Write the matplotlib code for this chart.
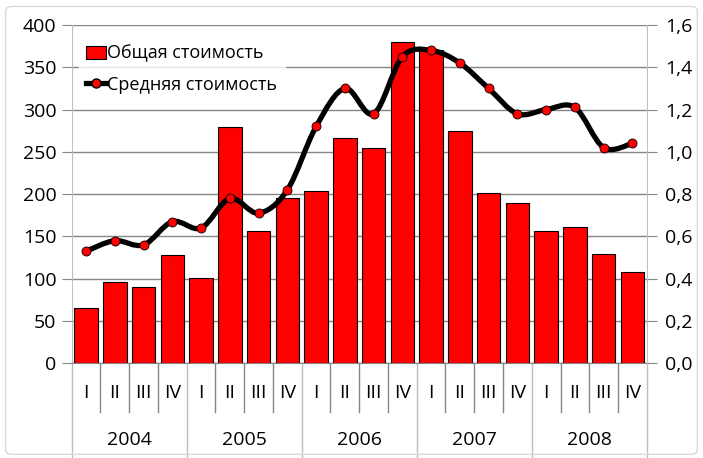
import matplotlib
matplotlib.use("Agg")
import matplotlib.pyplot as plt
import numpy as np
from matplotlib.path import Path
from matplotlib.patches import PathPatch, Patch, FancyBboxPatch
from matplotlib.lines import Line2D
import matplotlib.transforms as mtransforms

plt.rcParams['font.family'] = ['Open Sans', 'DejaVu Sans']

# ---------------- datos ----------------
years = ['2004', '2005', '2006', '2007', '2008']
quarters = ['I', 'II', 'III', 'IV']
total_cost = [65, 96, 90, 128, 101, 279, 157, 196, 204, 266,
              255, 380, 371, 275, 201, 189, 156, 161, 129, 108]
avg_cost = [0.53, 0.58, 0.56, 0.67, 0.64, 0.78, 0.71, 0.82, 1.12, 1.30,
            1.18, 1.45, 1.48, 1.42, 1.30, 1.18, 1.20, 1.21, 1.02, 1.04]
y1_ticks = [0, 50, 100, 150, 200, 250, 300, 350, 400]
y2_ticks = [0.0, 0.2, 0.4, 0.6, 0.8, 1.0, 1.2, 1.4, 1.6]

grid_col = '#868686'
axis_col = '#BFBFBF'
fs = 14

fig = plt.figure(figsize=(7.03, 4.58), dpi=100)
fig.patches.append(FancyBboxPatch((0.008, 0.008), 0.984, 0.978,
                                  boxstyle='round,pad=0,rounding_size=0.01',
                                  transform=fig.transFigure, facecolor='none',
                                  edgecolor='#D9D9D9', lw=1))
ax = fig.add_axes([0.102, 0.2068, 0.818, 0.7386])
ax2 = ax.twinx()

x = np.arange(len(total_cost))
ax.bar(x, total_cost, width=0.82, color='#FF0000', edgecolor='black', linewidth=0.8, zorder=2)
ax.set_xlim(-0.5, len(x) - 0.5)
ax.set_ylim(0, 400)
ax.set_yticks(y1_ticks)
ax.set_yticklabels([str(v) for v in y1_ticks], fontsize=fs)
ax.yaxis.grid(True, color=grid_col, lw=1, zorder=0)
ax.set_axisbelow(True)
ax.tick_params(axis='y', length=7, color=grid_col, pad=4)
ax.set_xticks([])
for s in ['top', 'right']:
    ax.spines[s].set_visible(False)
ax.spines['left'].set_color(axis_col)
ax.spines['bottom'].set_color(grid_col)

# linea suavizada (bezier tipo Excel)
pts = np.column_stack([x, avg_cost]).astype(float)
ext = np.vstack([pts[0], pts, pts[-1]])
verts = [tuple(pts[0])]
codes = [Path.MOVETO]
for i in range(len(pts) - 1):
    p0, p1, p2, p3 = ext[i], ext[i + 1], ext[i + 2], ext[i + 3]
    c1 = p1 + (p2 - p0) / 6
    c2 = p2 - (p3 - p1) / 6
    verts += [tuple(c1), tuple(c2), tuple(p2)]
    codes += [Path.CURVE4] * 3
ax2.add_patch(PathPatch(Path(verts, codes), facecolor='none', edgecolor='black', lw=3.8, zorder=3))
ax2.plot(x, avg_cost, 'o', color='#FF0000', mec='black', mew=0.6, ms=6.5, zorder=4)
ax2.set_ylim(0, 1.6)
ax2.set_yticks(y2_ticks)
ax2.set_yticklabels([f'{v:.1f}'.replace('.', ',') for v in y2_ticks], fontsize=fs)
ax2.tick_params(axis='y', length=7, color=grid_col, pad=6)
for s in ['top', 'left', 'bottom']:
    ax2.spines[s].set_visible(False)
ax2.spines['right'].set_color(axis_col)

# eje de categorias en dos niveles
trans = mtransforms.blended_transform_factory(ax.transData, ax.transAxes)
px = 1.0 / (0.7386 * 458)
for i in range(len(x) + 1):
    bottom = -95 * px if i % 4 == 0 else -49 * px
    col = axis_col if i % 4 == 0 else grid_col
    ax.plot([i - 0.5, i - 0.5], [0, bottom], color=col, lw=1, transform=trans, clip_on=False)
for i in range(len(x)):
    ax.text(i, -30 * px, quarters[i % 4], transform=trans, ha='center', va='center', fontsize=fs)
for j, yr in enumerate(years):
    ax.text(j * 4 + 1.5, -77 * px, yr, transform=trans, ha='center', va='center', fontsize=fs)

handles = [Patch(facecolor='#FF0000', edgecolor='black', lw=0.8),
           Line2D([], [], color='black', lw=3.8, marker='o', mfc='#FF0000', mec='black', ms=6.5)]
leg = ax2.legend(handles, ['Общая стоимость', 'Средняя стоимость'], loc='upper left',
                 bbox_to_anchor=(0.012, 0.963), frameon=True, fontsize=fs - 1,
                 handlelength=1.1, handletextpad=0.1, borderpad=0.4, labelspacing=0.72,
                 fancybox=False, borderaxespad=0)
leg.get_frame().set_facecolor('white')
leg.get_frame().set_edgecolor('white')
leg.set_zorder(5)

fig.savefig('out.png', dpi=100)
